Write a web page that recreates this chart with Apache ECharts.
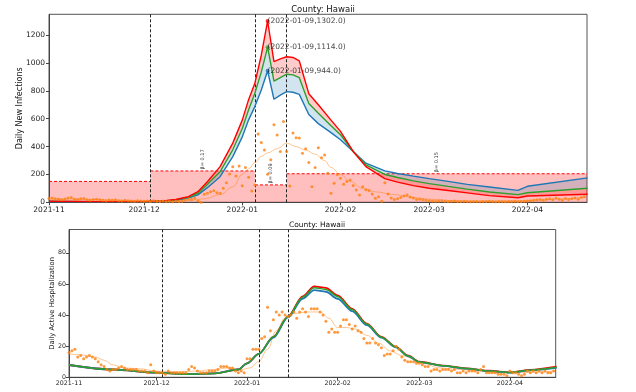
<!DOCTYPE html>
<html><head><meta charset="utf-8">
<script src="https://cdn.jsdelivr.net/npm/echarts@6/dist/echarts.min.js"></script>
<style>html,body{margin:0;padding:0;background:#fff}#c{width:636px;height:392px}</style>
</head><body><div id="c"></div><script>
// ---------- DATA ----------
const startDate = '2021-11-01';
const monthTicks = ['2021-11-01','2021-12-01','2022-01-01','2022-02-01','2022-03-01','2022-04-01'];
const changeDates = ['2021-12-03','2022-01-05','2022-01-15'];

// top: daily new infections (observed, daily from startDate)
const infObserved = [
 28,30,25,22,18,24,30,35,22,20,25,27,18,15,20,22,18,15,12,16,14,18,12,10,14,12,10,8,12,10,
 8,10,6,12,8,5,10,6,8,4,10,6,8,17,24,20,29,12,0,57,65,76,83,69,65,100,141,204,256,189,261,
 119,250,180,81,125,490,429,376,202,305,557,484,364,581,364,117,497,463,461,353,384,285,112,250,392,320,339,208,65,136,200,
 172,130,150,160,120,88,52,112,90,85,60,29,40,7,141,60,30,20,25,35,45,52,38,30,20,22,18,15,
 12,10,8,10,12,8,6,8,10,6,5,8,6,4,5,6,4,5,6,8,5,4,6,5,4,6,5,8,6,5,8,
 10,12,15,18,20,15,22,25,18,30,22,15,28,20,25,30,22,35,40
];
const infSmoothDates = ['2021-11-01','2021-11-08','2021-11-15','2021-11-22','2021-12-01','2021-12-10','2021-12-15','2021-12-20','2021-12-25','2021-12-29','2022-01-01','2022-01-03','2022-01-05','2022-01-07','2022-01-09','2022-01-12','2022-01-15','2022-01-18','2022-01-21','2022-01-24','2022-01-27','2022-01-29','2022-02-01','2022-02-04','2022-02-08','2022-02-12','2022-02-18','2022-02-24','2022-03-01','2022-03-10','2022-03-20','2022-03-30','2022-04-05','2022-04-12','2022-04-19'];
const infSmooth = [25,24,20,15,10,9,12,25,55,110,200,240,285,330,355,385,425,400,375,345,300,250,200,150,100,75,55,35,22,10,8,10,17,25,38];

const infModelDates = ['2021-11-01','2021-11-16','2021-12-01','2021-12-07','2021-12-11','2021-12-15','2021-12-18','2021-12-21','2021-12-25','2021-12-29','2022-01-01','2022-01-03','2022-01-05','2022-01-07','2022-01-09','2022-01-11','2022-01-13','2022-01-15','2022-01-17','2022-01-19','2022-01-22','2022-01-25','2022-01-29','2022-02-01','2022-02-05','2022-02-09','2022-02-15','2022-02-19','2022-02-24','2022-03-01','2022-03-07','2022-03-13','2022-03-20','2022-03-29','2022-04-01','2022-04-20'];
const infRed   = [8,5,5,10,20,40,76,148,256,425,590,737,857,1056,1302,1010,1030,1045,1040,1015,780,700,590,509,365,256,170,145,120,101,85,68,48,33,45,58];
const infGreen = [7,5,5,9,17,35,65,130,220,377,530,664,785,935,1114,870,895,920,915,895,710,640,550,485,365,269,200,178,154,134,114,95,74,55,69,101];
const infBlue  = [6,4,4,8,15,30,53,105,184,328,470,592,689,806,944,740,770,795,790,775,630,565,500,449,365,281,226,207,188,170,150,129,110,86,115,175];

// beta segments (transmission rate) : start, end, height, label
const betaStart = ['2021-11-01','2021-12-03','2022-01-05','2022-01-15'];
const betaEnd   = ['2021-12-03','2022-01-05','2022-01-15','2022-04-20'];
const betaLevel = [150,225,125,205];
const betaText  = ['', 'β= 0.17', 'β= 0.09', 'β= 0.15'];

const peakLabels = ['(2022-01-09,1302.0)','(2022-01-09,1114.0)','(2022-01-09,944.0)'];
const peakDate = '2022-01-09';
const peakValues = [1302,1114,944];

// bottom: daily active hospitalization (observed, daily from startDate)
const hospObserved = [
 16,17,18,13,14,12,13,14,13,12,10,8,7,5,4,5,5,6,7,6,5,5,5,5,4,4,4,3,8,4,
 3,3,3,2,4,3,3,3,3,3,3,5,7,6,4,3,3,3,4,4,4,5,7,7,7,6,6,4,3,4,3,
 12,12,18,18,18,25,26,45,30,37,42,40,42,40,39,40,42,38,42,44,42,39,44,44,44,42,40,36,29,31,29,
 29,33,37,37,34,31,33,30,29,25,22,22,25,22,21,19,14,15,15,17,20,18,13,11,10,10,10,9,
 9,8,7,7,4,5,5,4,5,5,5,4,5,3,3,4,3,4,4,4,3,5,7,3,3,3,3,2,2,2,1,
 4,3,3,2,1,2,4,3,4,3,4,3,4,3,3,4
];
const hospSmoothDates = ['2021-11-01','2021-11-05','2021-11-10','2021-11-13','2021-11-16','2021-11-20','2021-11-25','2021-12-01','2021-12-08','2021-12-15','2021-12-20','2021-12-26','2021-12-30','2022-01-02','2022-01-05','2022-01-08','2022-01-11','2022-01-14','2022-01-17','2022-01-22','2022-01-26','2022-01-29','2022-02-01','2022-02-04','2022-02-07','2022-02-11','2022-02-15','2022-02-19','2022-02-23','2022-02-27','2022-03-02','2022-03-08','2022-03-15','2022-03-25','2022-04-05','2022-04-16'];
const hospSmooth = [15,14.5,13,11,8,6,5.5,4,3.5,4,5,6,5,6,10,18,30,38,41,42,42,38,32,32,31,27,22,17,14,12,9,6,5,3.5,3,4];

const hospModelDates = ['2021-11-01','2021-11-16','2021-12-01','2021-12-11','2021-12-21','2021-12-29','2022-01-01','2022-01-05','2022-01-10','2022-01-15','2022-01-20','2022-01-24','2022-01-28','2022-02-01','2022-02-06','2022-02-11','2022-02-16','2022-02-21','2022-02-25','2022-03-01','2022-03-09','2022-03-17','2022-03-25','2022-04-01','2022-04-08','2022-04-17'];
const hospRed   = [7.9,5,3,2,2.5,5,9,15,26,39,52,58.5,57.5,52.7,44,34.5,26,19.6,14,10,7.5,5.8,4.2,3.2,4.8,6.8];
const hospGreen = [7.9,5,3,2,2.5,5,9,15,26,39,51.5,57.5,56.5,52,43.5,34.2,25.8,19.4,13.8,9.9,7.4,5.7,4.1,3.1,4.6,6.4];
const hospBlue  = [7.9,5,3,2,2.5,5,9,15,25.5,38.5,50.5,56,55,50.5,42.5,33.5,25.5,19.2,13.7,9.8,7.3,5.6,4,3,4.4,6];

// ---------- helpers ----------
function ts(s){const p=s.split('-').map(Number);return new Date(p[0],p[1]-1,p[2]).getTime();}
function tsDay(s,i){const p=s.split('-').map(Number);return new Date(p[0],p[1]-1,p[2]+i).getTime();}
function pairs(dates,vals){return vals.map((v,i)=>[ts(dates[i]),v]);}
function daily(vals){return vals.map((v,i)=>[tsDay(startDate,i),v]);}
function fmtMonth(v){const d=new Date(v);return d.getFullYear()+'-'+String(d.getMonth()+1).padStart(2,'0');}

function band(xi, dates, up, lo, color){
  return {type:'custom', xAxisIndex:xi, yAxisIndex:xi, silent:true, z:2, clip:true,
    data:[[ts(dates[0]), 0]],
    renderItem(params, api){
      const pts=[];
      for(let i=0;i<dates.length;i++) pts.push(api.coord([ts(dates[i]), up[i]]));
      for(let i=dates.length-1;i>=0;i--) pts.push(api.coord([ts(dates[i]), lo[i]]));
      return {type:'polygon', shape:{points:pts}, style:{fill:color}};
    }};
}
const FONT='DejaVu Sans';
function vlines(){
  return {silent:true, symbol:'none', label:{show:false},
    lineStyle:{color:'#222', type:[3,2], width:1},
    data: changeDates.map(d=>({xAxis: ts(d)}))};
}
function line(xi, data, color, w, z, sm){
  return {type:'line', xAxisIndex:xi, yAxisIndex:xi, data, showSymbol:false, symbol:'none',
    smooth: sm||false, smoothMonotone:'x',
    lineStyle:{color, width:w}, itemStyle:{color}, z:z||4, silent:true};
}

const chart = echarts.init(document.getElementById('c'), null, {renderer:'canvas'});
const xCommon = (min,max)=>({type:'value', min, max,
  axisLine:{show:true, lineStyle:{color:'#444'}},
  axisTick:{show:true, customValues: monthTicks.map(ts), length:3, lineStyle:{color:'#444'}},
  axisLabel:{customValues: monthTicks.map(ts), formatter: fmtMonth, color:'#222', fontFamily:FONT},
  splitLine:{show:false}});

const x0 = xCommon(ts('2021-11-01'), ts('2021-11-01') + 169.8*86400000);
x0.gridIndex=0; x0.axisLabel.fontSize=7.5; x0.axisLabel.margin=4;
const x1 = xCommon(ts('2021-11-01'), ts('2021-11-01') + 166.7*86400000);
x1.gridIndex=1; x1.axisLabel.fontSize=6.3; x1.axisLabel.margin=3;

const option = {
  animation:false,
  backgroundColor:'#fff',
  title:[
    {text:'County: Hawaii', left:318, top:0, textAlign:'center', textStyle:{fontFamily:FONT, fontSize:8.5, fontWeight:'normal', color:'#111'}},
    {text:'County: Hawaii', left:312, top:216, textAlign:'center', textStyle:{fontFamily:FONT, fontSize:7.5, fontWeight:'normal', color:'#111'}}
  ],
  grid:[
    {left:49, top:14.3, width:538, height:188, show:true, borderColor:'#555', borderWidth:1, backgroundColor:'transparent'},
    {left:69, top:229.5, width:486.7, height:147.8, show:true, borderColor:'#555', borderWidth:1, backgroundColor:'transparent'}
  ],
  xAxis:[x0, x1],
  yAxis:[
    {type:'value', gridIndex:0, min:0, max:1350, interval:200,
     name:'Daily New Infections', nameLocation:'middle', nameGap:25, nameMoveOverlap:false, nameTextStyle:{fontFamily:FONT, fontSize:8, color:'#111'},
     axisLine:{show:true, lineStyle:{color:'#444'}}, axisTick:{show:true, length:3, lineStyle:{color:'#444'}},
     axisLabel:{fontFamily:FONT, fontSize:7.5, color:'#222', margin:4, showMaxLabel:false, formatter: v=>String(v)}, splitLine:{show:false}},
    {type:'value', gridIndex:1, min:0, max:95, interval:20,
     name:'Daily Active Hospitalization', nameLocation:'middle', nameGap:13, nameMoveOverlap:false, nameTextStyle:{fontFamily:FONT, fontSize:6.8, color:'#111'},
     axisLine:{show:true, lineStyle:{color:'#444'}}, axisTick:{show:true, length:3, lineStyle:{color:'#444'}},
     axisLabel:{fontFamily:FONT, fontSize:6.3, color:'#222', margin:3, showMaxLabel:false, formatter: v=>String(v)}, splitLine:{show:false}}
  ],
  series:[
    // beta segments
    {type:'custom', xAxisIndex:0, yAxisIndex:0, silent:true, z:1, clip:true,
     encode:{x:[0,1], y:2},
     data: betaLevel.map((h,i)=>[ts(betaStart[i]), ts(betaEnd[i]), h]),
     renderItem(params, api){
       const p0 = api.coord([api.value(0), api.value(2)]);
       const p1 = api.coord([api.value(1), 0]);
       const lab = betaText[params.dataIndex];
       const ch = [
         {type:'rect', shape:{x:p0[0], y:p0[1], width:p1[0]-p0[0], height:p1[1]-p0[1]}, style:{fill:'rgba(255,0,0,0.25)'}},
         {type:'line', shape:{x1:p0[0], y1:p0[1], x2:p1[0], y2:p0[1]}, style:{stroke:'#ff0000', lineDash:[3,2], lineWidth:1}}
       ];
       if(lab) ch.push({type:'text', x:(p0[0]+p1[0])/2, y:p0[1]-1.5, rotation:Math.PI/2,
         style:{text:lab, fontSize:5, fontFamily:FONT, fill:'#333', align:'left', verticalAlign:'middle'}});
       return {type:'group', children:ch};
     }},
    band(0, infModelDates, infRed, infGreen, 'rgba(255,0,0,0.2)'),
    band(0, infModelDates, infGreen, infBlue, 'rgba(31,119,180,0.2)'),
    line(0, pairs(infSmoothDates, infSmooth), 'rgba(255,127,14,0.45)', 1, 3, 0.4),
    line(0, pairs(infModelDates, infBlue), '#1f77b4', 1.4, 5),
    line(0, pairs(infModelDates, infGreen), '#2ca02c', 1.4, 5),
    line(0, pairs(infModelDates, infRed), '#ff0000', 1.4, 5),
    {type:'scatter', xAxisIndex:0, yAxisIndex:0, data: daily(infObserved), symbol:'circle', symbolSize:3,
     itemStyle:{color:'#ff7f0e'}, z:6, silent:true, markLine: vlines()},
    {type:'scatter', xAxisIndex:0, yAxisIndex:0, z:7, silent:true, symbolSize:4,
     data: peakValues.map((v,i)=>({value:[ts(peakDate), v], itemStyle:{color:['#ff0000','#2ca02c','#1f77b4'][i]},
       label:{show:true, formatter: peakLabels[i]}})),
     label:{position:'right', distance:-2, fontFamily:FONT, fontSize:7.5, color:'#111'}},

    // bottom plot
    line(1, pairs(hospSmoothDates, hospSmooth), 'rgba(255,127,14,0.45)', 1, 3, 0.4),
    line(1, pairs(hospModelDates, hospRed), '#ff0000', 1.8, 5, 0.3),
    line(1, pairs(hospModelDates, hospBlue), '#1f77b4', 1.8, 5, 0.3),
    line(1, pairs(hospModelDates, hospGreen), '#2ca02c', 1.5, 5, 0.3),
    {type:'scatter', xAxisIndex:1, yAxisIndex:1, data: daily(hospObserved), symbol:'circle', symbolSize:3,
     itemStyle:{color:'#ff7f0e'}, z:6, silent:true, markLine: vlines()}
  ]
};
chart.setOption(option);
</script></body></html>
